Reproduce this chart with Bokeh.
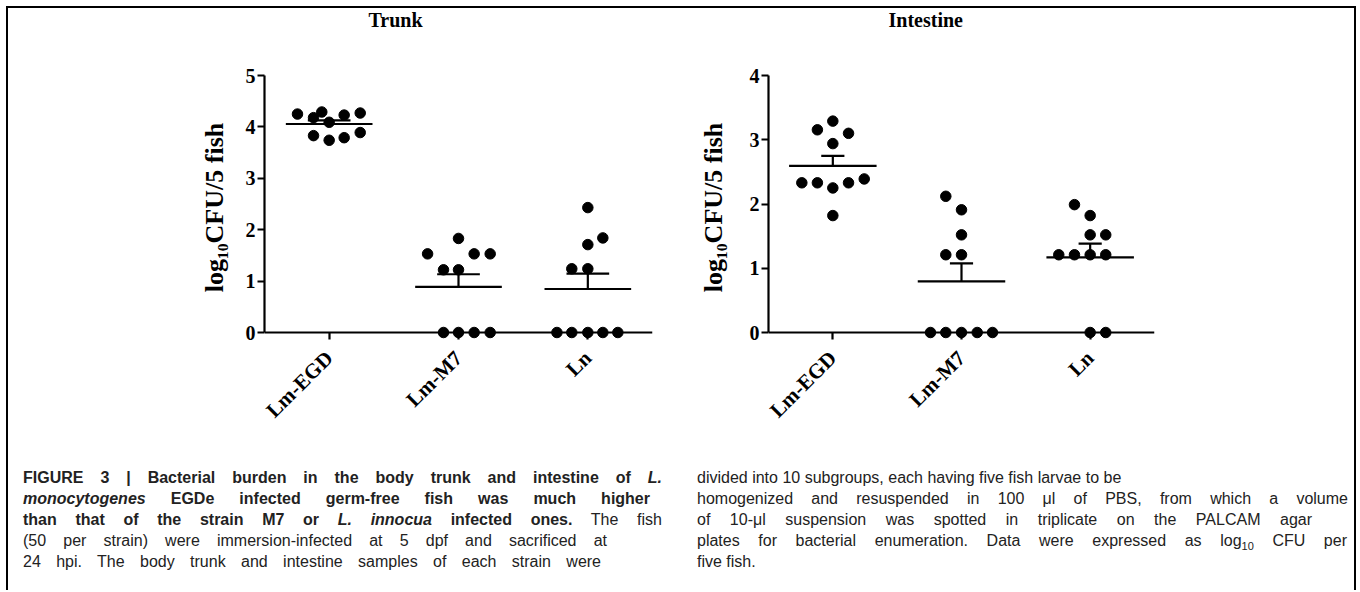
import math
import numpy as np
from bokeh.plotting import figure
from bokeh.models import FactorRange, Range1d, FixedTicker, ColumnDataSource, Div, Span, Spacer
from bokeh.layouts import row, column
from bokeh.embed import file_html
from bokeh.resources import INLINE

# ---------------- data ----------------
categories = ["Lm-EGD", "Lm-M7", "Ln"]

trunk_lm_egd = [4.25, 4.18, 4.29, 4.09, 4.23, 4.27, 3.83, 3.74, 3.79, 3.89]
trunk_lm_egd_jitter = [-0.245, -0.121, -0.057, 0.0, 0.116, 0.24, -0.121, 0.0, 0.116, 0.24]
trunk_lm_m7 = [1.53, 1.22, 1.83, 1.22, 1.53, 1.53, 0, 0, 0, 0]
trunk_lm_m7_jitter = [-0.239, -0.116, 0.0, 0.0, 0.121, 0.245, -0.116, 0.0, 0.121, 0.245]
trunk_ln = [2.43, 1.71, 1.84, 1.24, 1.24, 0, 0, 0, 0, 0]
trunk_ln_jitter = [0.0, 0.0, 0.116, -0.124, 0.0, -0.239, -0.124, 0.0, 0.116, 0.232]

intestine_lm_egd = [3.29, 3.155, 3.10, 2.94, 2.33, 2.33, 2.25, 2.33, 2.39, 1.82]
intestine_lm_egd_jitter = [0.0, -0.12, 0.122, 0.0, -0.241, -0.12, 0.0, 0.122, 0.244, 0.0]
intestine_lm_m7 = [2.12, 1.91, 1.52, 1.21, 1.21, 0, 0, 0, 0, 0]
intestine_lm_m7_jitter = [-0.122, 0.0, 0.0, -0.122, 0.0, -0.241, -0.122, 0.0, 0.122, 0.241]
intestine_ln = [1.99, 1.82, 1.52, 1.52, 1.21, 1.21, 1.21, 1.21, 0, 0]
intestine_ln_jitter = [-0.122, 0.0, 0.0, 0.121, -0.244, -0.122, 0.0, 0.121, 0.0, 0.121]

trunk_ticks = [0, 1, 2, 3, 4, 5]
intestine_ticks = [0, 1, 2, 3, 4]

y_label = "log\u2081\u2080CFU/5 fish"

caption_left = [
    "<b>FIGURE 3 | Bacterial burden in the body trunk and intestine of <i>L.</i></b>",
    "<b><i>monocytogenes</i> EGDe infected germ-free fish was much higher</b>",
    "<b>than that of the strain M7 or <i>L. innocua</i> infected ones.</b> The fish",
    "(50 per strain) were immersion-infected at 5 dpf and sacrificed at",
    "24 hpi. The body trunk and intestine samples of each strain were",
]
caption_right = [
    "divided into 10 subgroups, each having five fish larvae to be",
    "homogenized and resuspended in 100 \u03bcl of PBS, from which a volume",
    "of 10-\u03bcl suspension was spotted in triplicate on the PALCAM agar",
    "plates for bacterial enumeration. Data were expressed as log<sub style='font-size:11px'>10</sub> CFU per",
    "five fish.",
]

SERIF = "Liberation Serif"
LW = 2.2
TOP_H = 430        # height of the chart row
FRAME_TOP = 67     # px from canvas top to the plot frame
FRAME_H = 264      # plot frame height in px
ZERO_GAP = 7       # px between y=0 and the bottom of the frame (tick length)


def make_panel(title, groups, y_top, ticks, width, b_left, b_right,
               title_offset, label_standoff, mean_half, cap_half):
    y_start = -y_top * ZERO_GAP / (FRAME_H - ZERO_GAP)
    p = figure(width=width, height=TOP_H,
               x_range=FactorRange(factors=categories, range_padding=0),
               y_range=Range1d(y_start, y_top),
               output_backend="svg", toolbar_location=None,
               min_border_left=b_left, min_border_right=b_right,
               min_border_top=FRAME_TOP, min_border_bottom=TOP_H - FRAME_TOP - FRAME_H)
    p.outline_line_color = None
    p.grid.visible = False
    p.background_fill_color = "white"
    p.border_fill_color = "white"

    p.title.text = title
    p.title.text_font = SERIF
    p.title.text_font_style = "bold"
    p.title.text_font_size = "20px"
    p.title.text_color = "black"
    p.title.align = "left"
    p.title.offset = title_offset
    p.title.vertical_align = "top"
    p.title.standoff = 0
    p.title.padding = dict(left=0, right=0, top=0, bottom=43)

    xs, ys, means, sems = [], [], [], []
    for cat, (vals, jit) in zip(categories, groups):
        xs += [(cat, j) for j in jit]
        ys += list(vals)
        a = np.array(vals, dtype=float)
        means.append(a.mean())
        sems.append(a.std(ddof=1) / math.sqrt(len(a)))
    means = np.array(means)
    sems = np.array(sems)

    stats = ColumnDataSource(dict(
        xm0=[(c, -mean_half) for c in categories],
        xm1=[(c, mean_half) for c in categories],
        xc=list(categories),
        xc0=[(c, -cap_half) for c in categories],
        xc1=[(c, cap_half) for c in categories],
        mean=means, top=means + sems))

    # x axis base line at y = 0
    p.add_layout(Span(location=0, dimension="width", line_color="black", line_width=LW))

    p.segment(x0="xm0", x1="xm1", y0="mean", y1="mean", source=stats,
              line_color="black", line_width=LW)
    p.segment(x0="xc", x1="xc", y0="mean", y1="top", source=stats,
              line_color="black", line_width=LW)
    p.segment(x0="xc0", x1="xc1", y0="top", y1="top", source=stats,
              line_color="black", line_width=LW)

    p.scatter(x=xs, y=ys, size=10.5, color="black", marker="circle")

    xa = p.xaxis[0]
    xa.major_label_orientation = math.pi / 4
    xa.major_label_text_font = SERIF
    xa.major_label_text_font_style = "bold"
    xa.major_label_text_font_size = "21px"
    xa.major_label_text_color = "black"
    xa.major_tick_out = 0
    xa.major_tick_in = ZERO_GAP
    xa.minor_tick_line_color = None
    xa.axis_line_color = None
    xa.major_tick_line_width = LW
    xa.major_tick_line_color = "black"
    xa.major_label_standoff = 15

    ya = p.yaxis[0]
    ya.ticker = FixedTicker(ticks=ticks)
    ya.bounds = (0, y_top)
    ya.major_label_text_font = SERIF
    ya.major_label_text_font_style = "bold"
    ya.major_label_text_font_size = "20px"
    ya.major_label_text_color = "black"
    ya.major_tick_out = 7
    ya.major_tick_in = 0
    ya.minor_tick_line_color = None
    ya.axis_line_width = LW
    ya.major_tick_line_width = LW
    ya.axis_line_color = "black"
    ya.major_tick_line_color = "black"
    ya.major_label_standoff = 2
    ya.axis_label = y_label
    ya.axis_label_text_font = SERIF
    ya.axis_label_text_font_style = "bold"
    ya.axis_label_text_font_size = "26px"
    ya.axis_label_text_color = "black"
    ya.axis_label_standoff = label_standoff
    return p


# page x: p1 canvas 8..680, frame 264..652 ; p2 canvas 680..1354, frame 768..1154
p1 = make_panel("Trunk",
                [(trunk_lm_egd, trunk_lm_egd_jitter),
                 (trunk_lm_m7, trunk_lm_m7_jitter),
                 (trunk_ln, trunk_ln_jitter)],
                5, trunk_ticks, 672, 256, 28, 104, 14, 0.335, 0.165)
p2 = make_panel("Intestine",
                [(intestine_lm_egd, intestine_lm_egd_jitter),
                 (intestine_lm_m7, intestine_lm_m7_jitter),
                 (intestine_ln, intestine_ln_jitter)],
                4, intestine_ticks, 674, 88, 200, 120, 19, 0.34, 0.09)

# ---------------- caption ----------------
CAP_W, CAP_H = 1346, 152
left_x, right_x = 15, 689
left_widths = [639, 627, 639, 584, 578]
right_widths = [None, 651, 615, 650, None]
tops = [29, 50, 71, 92, 113]


def cap_line(x, top, w, html):
    st = f"position:absolute;left:{x}px;top:{top}px;line-height:21px;white-space:nowrap;"
    if w:
        st += f"width:{w}px;text-align:justify;text-align-last:justify;"
    return f'<div style="{st}">{html}</div>'


html = [f'<div style="position:relative;width:{CAP_W}px;height:{CAP_H}px;'
        "font-family:'Liberation Sans',Arial,sans-serif;font-size:16px;color:#222;\">"]
for t, w, s in zip(tops, left_widths, caption_left):
    html.append(cap_line(left_x, t, w, s))
for t, w, s in zip(tops, right_widths, caption_right):
    html.append(cap_line(right_x, t, w, s))
html.append("</div>")

caption = Div(text="".join(html), width=CAP_W, height=CAP_H, margin=0)

# figure frame border (top, left, right)
BLACK = {"background-color": "black"}
top_bar = Div(text="", width=CAP_W + 4, height=2, margin=0, styles=BLACK)
left_bar = Div(text="", width=2, height=TOP_H + CAP_H, margin=0, styles=BLACK)
right_bar = Div(text="", width=2, height=TOP_H + CAP_H, margin=0, styles=BLACK)

framed = column(top_bar, row(left_bar, column(row(p1, p2), caption), right_bar))
layout = column(Spacer(height=6, width=1), row(Spacer(width=6, height=1), framed))

open("out.html", "w").write(file_html(layout, INLINE))
